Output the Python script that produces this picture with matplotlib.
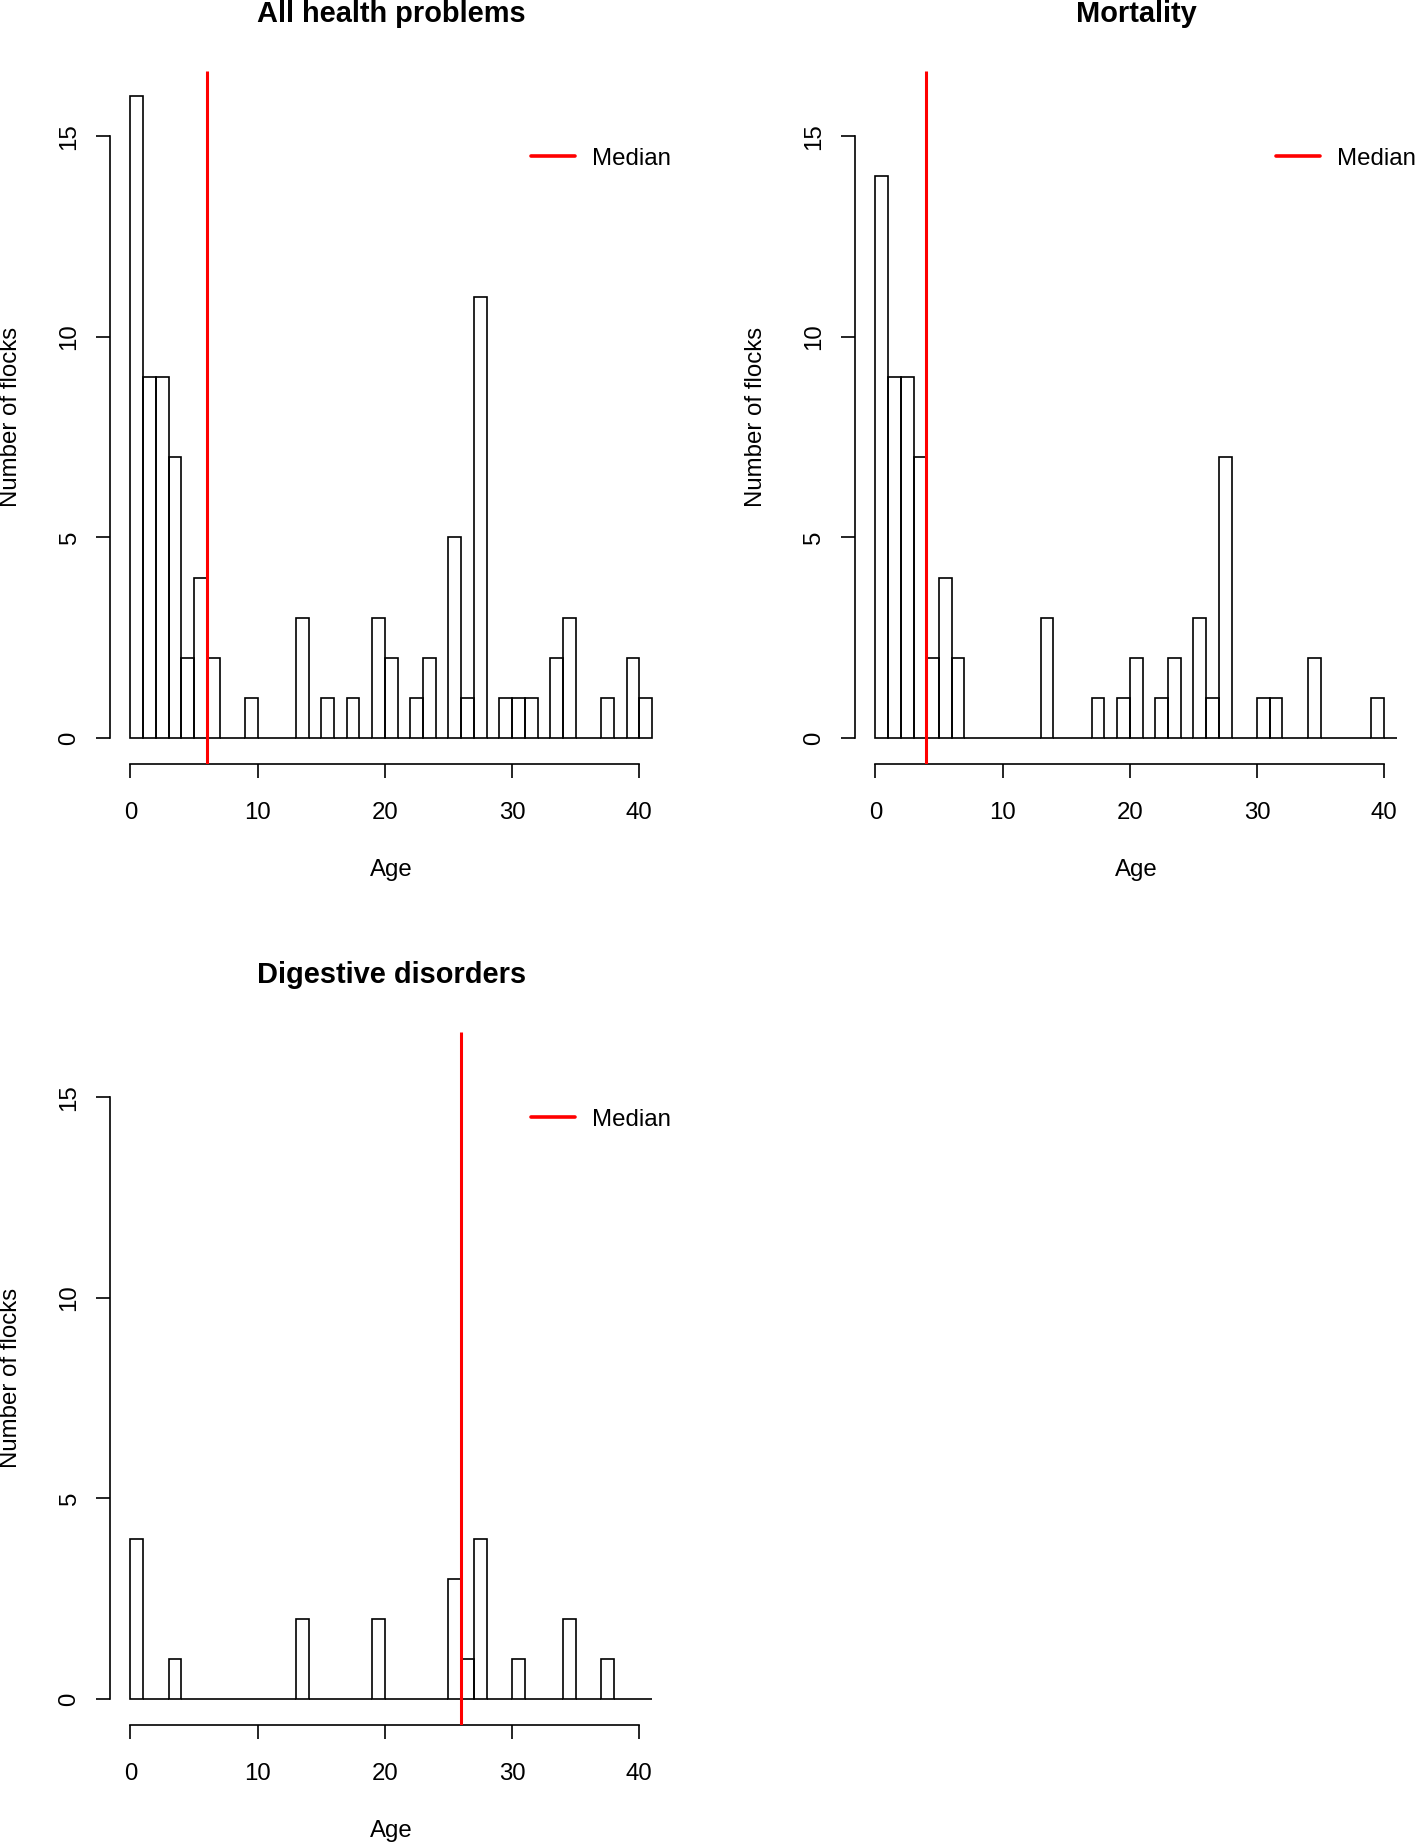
import numpy as np
import matplotlib
matplotlib.use("Agg")
import matplotlib.pyplot as plt

plt.rcParams['font.family'] = ['Liberation Sans', 'DejaVu Sans']

# ---- data ----
bin_edges = list(range(0, 42))  # 41 bins of width 1, 0..41
titles = ["All health problems", "Mortality", "Digestive disorders"]

counts_all = [16, 9, 9, 7, 2, 4, 2, 0, 0, 1, 0, 0, 0, 3, 0, 1, 0, 1, 0, 3,
              2, 0, 1, 2, 0, 5, 1, 11, 0, 1, 1, 1, 0, 2, 3, 0, 0, 1, 0, 2, 1]
counts_mort = [14, 9, 9, 7, 2, 4, 2, 0, 0, 0, 0, 0, 0, 3, 0, 0, 0, 1, 0, 1,
               2, 0, 1, 2, 0, 3, 1, 7, 0, 0, 1, 1, 0, 0, 2, 0, 0, 0, 0, 1, 0]
counts_dig = [4, 0, 0, 1, 0, 0, 0, 0, 0, 0, 0, 0, 0, 2, 0, 0, 0, 0, 0, 2,
              0, 0, 0, 0, 0, 3, 1, 4, 0, 0, 1, 0, 0, 0, 2, 0, 0, 1, 0, 0, 0]
medians = [6, 4, 26]

x_ticks = [0, 10, 20, 30, 40]
y_ticks = [0, 5, 10, 15]
y_range = (0, 16)
x_label = "Age"
y_label = "Number of flocks"
legend_label = "Median"

# ---- layout (pixels of the 1415x1843 figure) ----
W, H = 1415, 1843
fig = plt.figure(figsize=(W / 100, H / 100), dpi=100)
aw, ah = 563.3, 693.1
panels = [(109.6, 70.6), (854.5, 70.6), (109.6, 1031.6)]
series = [counts_all, counts_mort, counts_dig]

FS = 17.3
LW = 1.2

for (left, top), counts, title, med in zip(panels, series, titles, medians):
    ax = fig.add_axes([left / W, 1 - (top + ah) / H, aw / W, ah / H])
    edges = np.array(bin_edges, dtype=float)
    ax.bar(edges[:-1], counts, width=np.diff(edges), align='edge',
           fill=False, edgecolor='black', linewidth=LW, zorder=2)
    ax.axvline(med, color='red', lw=2.2, zorder=3, label=legend_label,
               solid_capstyle='butt')

    xlo, xhi = edges[0], edges[-1]
    ylo, yhi = y_range
    ax.set_xlim(xlo - 0.04 * (xhi - xlo), xhi + 0.04 * (xhi - xlo))
    ax.set_ylim(ylo - 0.04 * (yhi - ylo), yhi + 0.04 * (yhi - ylo))

    for s in ['top', 'right']:
        ax.spines[s].set_visible(False)
    for s in ['left', 'bottom']:
        ax.spines[s].set_linewidth(LW)
    ax.spines['bottom'].set_bounds(x_ticks[0], x_ticks[-1])
    ax.spines['left'].set_bounds(y_ticks[0], y_ticks[-1])

    ax.set_xticks(x_ticks)
    ax.set_xticklabels([str(t) for t in x_ticks], fontsize=FS)
    ax.set_yticks(y_ticks)
    ax.set_yticklabels([str(t) for t in y_ticks], fontsize=FS,
                       rotation=90, va='center')
    ax.tick_params(axis='x', direction='out', length=10.1, width=LW, pad=17.6)
    ax.tick_params(axis='y', direction='out', length=10.1, width=LW, pad=10.8)

    ax.set_xlabel(x_label, fontsize=FS)
    ax.xaxis.set_label_coords(0.5, -0.137)
    ax.set_ylabel(y_label, fontsize=FS)
    ax.yaxis.set_label_coords(-0.155, 0.5)

    ax.set_title(title, fontsize=20.9, fontweight='bold', pad=35)

    leg = ax.legend(loc='center left', bbox_to_anchor=(0.748, 0.873),
                    frameon=False, borderpad=0, borderaxespad=0,
                    handlelength=1.82, handletextpad=0.73, fontsize=FS)
    for ln in leg.get_lines():
        ln.set_linewidth(2.6)
        ln.set_solid_capstyle('round')

fig.savefig("out.png", dpi=100, facecolor='white')
